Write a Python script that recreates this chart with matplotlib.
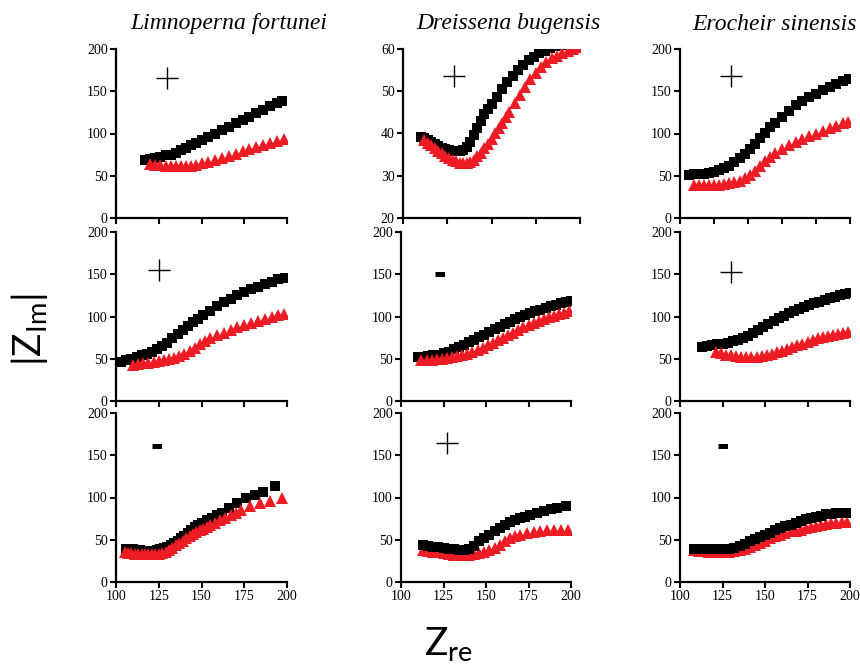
import numpy as np
from matplotlib import pyplot as plt

# species in the three columns
species = ['Limnoperna fortunei', 'Dreissena bugensis', 'Erocheir sinensis']
signs = [['+', '+', '+'],
         ['+', '-', '+'],
         ['-', '+', '-']]

# row 1
p11_bx = [117, 120, 123, 126, 129, 132, 135, 138, 141, 144, 147, 150, 154, 158, 162, 166, 170, 174, 178, 182, 186, 190, 194, 197]
p11_by = [69, 70, 71, 72, 74, 75, 77, 80, 83, 86, 89, 92, 96, 100, 104, 108, 113, 116, 120, 124, 128, 132, 136, 139]
p11_rx = [120, 123, 126, 129, 132, 135, 138, 141, 144, 147, 150, 154, 158, 162, 166, 170, 174, 178, 182, 186, 190, 194, 198]
p11_ry = [64, 63, 62.5, 62, 61.5, 61, 61, 61.5, 62, 63, 64.5, 66.5, 68.5, 71, 73.5, 76, 79, 81.5, 84, 86.5, 89, 91, 93]

p12_bx = [110, 112, 114, 116, 118, 120, 122, 124, 126, 128, 130, 132, 134, 136, 138, 140, 142, 144, 146, 148, 150,
          153, 156, 159, 162, 165, 168, 171, 174, 177, 180, 183, 186, 189, 192]
p12_by = [39.2, 39, 38.5, 38, 37.6, 37.1, 36.6, 36.3, 36, 35.8, 35.8, 35.9, 36.2, 36.9, 38, 39.6, 41.3, 43, 44.5, 45.8, 47,
          48.7, 50.6, 52.2, 53.6, 55, 56.2, 57.3, 58.2, 59, 59.6, 60.2, 60.6, 61, 61.3]
p12_rx = [112, 114, 116, 118, 120, 122, 124, 126, 128, 130, 132, 134, 136, 138, 140, 142, 144, 146, 148, 150, 152, 154,
          156, 158, 160, 163, 166, 169, 172, 175, 178, 181, 184, 187, 190, 193, 196, 199]
p12_ry = [38.4, 37.8, 37.2, 36.6, 35.9, 35.3, 34.7, 34.2, 33.8, 33.4, 33, 32.9, 33, 33.3, 33.8, 34.6, 35.5, 36.5, 37.6,
          38.8, 40, 41.3, 42.6, 43.9, 45.2, 47.2, 49.2, 51, 52.8, 54.3, 55.8, 57, 57.8, 58.3, 59, 59.6, 60.1, 60.5]

p13_bx = [105, 108, 111, 114, 117, 120, 123, 126, 129, 132, 135, 138, 141, 144, 147, 150, 153, 156, 160, 164, 168, 172,
          176, 180, 184, 188, 192, 196, 199.5]
p13_by = [51, 51.5, 52, 52.5, 53.5, 55, 57, 59, 62, 66, 70.5, 76, 82, 88, 95, 101, 108, 113, 120, 127, 134, 139, 143,
          147, 151, 155, 159, 162, 164]
p13_rx = [108, 111, 114, 117, 120, 123, 126, 129, 132, 135, 138, 141, 144, 147, 150, 153, 156, 160, 164, 168, 172, 176,
          180, 184, 188, 192, 196, 199]
p13_ry = [39.5, 39.3, 39.2, 39.2, 39.3, 39.5, 40, 41, 42.5, 44, 47, 51, 56, 61, 67, 72, 77, 82, 86, 90, 94, 97, 100,
          103, 106, 109, 112, 114]

# row 2
p21_bx = [103, 106, 109, 112, 115, 118, 121, 124, 127, 130, 133, 136, 139, 142, 145, 148, 151, 155, 159, 163, 167, 171,
          175, 179, 183, 187, 191, 195, 199]
p21_by = [46.5, 48, 50, 52, 54, 56, 58.5, 61.5, 65, 69, 74, 79, 84, 88.5, 93, 97.5, 102, 107, 112, 117, 121, 125, 129,
          132, 135, 138, 141, 144, 146]
p21_rx = [110, 113, 116, 119, 122, 125, 128, 131, 134, 137, 140, 143, 146, 149, 152, 155, 159, 163, 167, 171, 175, 179,
          183, 187, 191, 195, 198]
p21_ry = [43, 43.5, 44.5, 45.3, 46, 47, 48, 49.5, 51, 53, 56, 59, 63, 67, 71, 74, 78, 81, 84, 87, 89.5, 92, 95, 97.5,
          100, 102, 103.5]

p22_bx = [110, 113, 116, 119, 122, 125, 128, 131, 134, 137, 140, 143, 146, 149, 152, 155, 158, 161, 164, 167, 170, 173,
          176, 179, 182, 185, 188, 191, 194, 197, 200]
p22_by = [52, 52.5, 53, 54, 55, 56.5, 58.5, 61, 63.5, 66.5, 69.5, 72.5, 75.5, 78.5, 81.5, 85, 88, 91, 94, 97, 99.5,
          102, 104, 106, 108, 110, 112, 114, 115.5, 117, 118]
p22_rx = [112, 115, 118, 121, 124, 127, 130, 133, 136, 139, 142, 145, 148, 151, 154, 157, 160, 163, 166, 169, 172, 175,
          178, 181, 184, 187, 190, 193, 196, 199]
p22_ry = [48, 48.5, 49, 49.5, 50, 51, 52, 53, 54.5, 56, 58, 60.5, 63, 66, 69, 72, 75, 78, 81, 84, 87, 89.5, 92, 94.5,
          97, 99, 101, 102.5, 104.5, 107]

p23_bx = [113, 116, 119, 122, 125, 128, 131, 134, 137, 140, 143, 146, 149, 152, 155, 158, 161, 164, 167, 170, 173, 176,
          179, 182, 185, 188, 191, 194, 197, 200]
p23_by = [64, 65, 66, 67, 68, 69, 70.5, 72, 74, 76.5, 80, 84, 87.5, 91, 94.5, 98, 101, 104, 106.5, 109, 111, 113.5,
          116, 117.5, 119.5, 121.5, 123, 125, 127, 128]
p23_rx = [121, 124, 127, 130, 133, 136, 139, 142, 145, 148, 151, 154, 157, 160, 163, 166, 169, 172, 175, 178, 181, 184,
          187, 190, 193, 196, 199]
p23_ry = [58, 56.5, 55, 54, 53, 52.5, 52, 52, 52.5, 53.5, 54.5, 56, 57.5, 59.5, 61.5, 63.5, 66, 68, 70, 72, 74, 75.5,
          77, 78, 79.5, 81, 82]

# row 3
p31_bx = [106, 108, 110, 112, 114, 116, 118, 120, 122, 124, 126, 128, 130, 132, 134, 136, 138, 140, 142, 144, 146, 148,
          150, 153, 156, 159, 162, 166, 171, 176, 181, 186, 193]
p31_by = [39, 39, 38.5, 38, 37.5, 37, 36.5, 36.5, 37, 38, 39, 40, 42, 44, 46.5, 49, 52, 55, 58, 61, 65, 68, 70, 73, 76,
          79, 82, 87, 93.5, 99, 103, 107, 114]
p31_rx = [105, 107, 109, 111, 113, 115, 117, 119, 121, 123, 125, 127, 129, 131, 133, 135, 137, 139, 141, 143, 145, 147,
          149, 151, 153, 155, 158, 161, 164, 167, 170, 173, 178.5, 184.5, 190, 197]
p31_ry = [35, 34.5, 34, 33.5, 33, 33, 33, 33, 33, 33, 33.5, 34.5, 36, 38, 40.5, 43.5, 46.5, 49, 51.5, 54, 56.5, 59, 61,
          63, 65, 67, 70, 73, 76, 79, 82, 85.5, 90, 93.5, 95.5, 99.5]

p32_bx = [113, 116, 119, 122, 125, 128, 131, 134, 137, 140, 143, 146, 149, 152, 155, 158, 161, 164, 167, 170, 173, 176,
          180, 184, 188, 192, 197]
p32_by = [43.5, 43, 42, 41, 40.5, 39.5, 38.5, 38, 38, 39.5, 43, 48, 52, 56, 60, 64, 67.5, 70.5, 73, 75.5, 77.5, 79.5,
          82, 84, 86, 88, 90.5]
p32_rx = [113, 116, 119, 122, 125, 128, 131, 134, 137, 140, 143, 146, 149, 152, 155, 158, 161, 164, 167, 170, 174, 178,
          182, 186, 190, 194, 198]
p32_ry = [37.5, 37, 36, 35, 34, 33, 32, 31.5, 31.5, 32, 33, 34.5, 36, 37.5, 40, 44, 48, 51.5, 54.5, 56, 58, 59.5, 60.5,
          61, 61, 61, 61]

p33_bx = [108, 111, 114, 117, 120, 123, 126, 129, 132, 135, 138, 141, 144, 147, 150, 153, 156, 159, 162, 165, 168, 171,
          174, 177, 180, 183, 186, 189, 192, 195, 198]
p33_by = [39.5, 39.5, 39.5, 39.5, 39.5, 39, 39, 39.5, 40.5, 42.5, 45, 48, 51, 53.5, 56, 58.5, 61, 63.5, 66, 68, 70, 72,
          74, 75.5, 77, 78.5, 80, 81, 81.5, 81.5, 81.5]
p33_rx = [108, 111, 114, 117, 120, 123, 126, 129, 132, 135, 138, 141, 144, 147, 150, 153, 156, 159, 162, 165, 168, 171,
          174, 177, 180, 183, 186, 189, 192, 195, 198]
p33_ry = [37.5, 37, 36.5, 36, 35.5, 35.5, 35.5, 36, 36.5, 37.5, 39.5, 42, 44, 46.5, 49, 51.5, 54, 56, 58, 60, 60.5, 62,
          63.5, 65, 66.5, 67.5, 68.5, 69.5, 70, 70.5, 71]

panels = [[(p11_bx, p11_by, p11_rx, p11_ry), (p12_bx, p12_by, p12_rx, p12_ry), (p13_bx, p13_by, p13_rx, p13_ry)],
          [(p21_bx, p21_by, p21_rx, p21_ry), (p22_bx, p22_by, p22_rx, p22_ry), (p23_bx, p23_by, p23_rx, p23_ry)],
          [(p31_bx, p31_by, p31_rx, p31_ry), (p32_bx, p32_by, p32_rx, p32_ry), (p33_bx, p33_by, p33_rx, p33_ry)]]

red = '#ed1c24'
serif = 'Liberation Serif'

fig = plt.figure(figsize=(8.6, 6.64), dpi=100)

# axes boxes in pixels (left, width); the top middle panel is a bit wider
lefts = [[116, 403, 680], [116, 401, 680], [116, 401, 680]]
widths = [[171, 177, 170], [171, 170, 170], [171, 170, 170]]
tops = [49, 232, 413]
sign_pos = [[(0.30, 0.83), (0.29, 0.84), (0.30, 0.84)],
            [(0.25, 0.775), (0.23, 0.745), (0.30, 0.765)],
            [(0.24, 0.80), (0.27, 0.82), (0.25, 0.80)]]

for r in range(3):
    for c in range(3):
        ax = fig.add_axes([lefts[r][c] / 860, 1 - (tops[r] + 169) / 664, widths[r][c] / 860, 169 / 664])
        bx, by, rx, ry = panels[r][c]
        if r == 2 and c >= 1:
            ax.plot(rx, ry, '^', color=red, ms=8, mew=0)
            ax.plot(bx, by, 's', color='k', ms=7.5, mew=0)
        else:
            ax.plot(bx, by, 's', color='k', ms=7.5, mew=0)
            ax.plot(rx, ry, '^', color=red, ms=8, mew=0)

        ax.set_xlim(100, 200)
        if r == 0 and c == 1:
            ax.set_ylim(20, 60)
            ax.set_yticks([20, 30, 40, 50, 60])
        else:
            ax.set_ylim(0, 200)
            ax.set_yticks([0, 50, 100, 150, 200])
        if r == 0 and c == 2:
            ax.set_xticks([100, 120, 140, 160, 180, 200])
        else:
            ax.set_xticks([100, 125, 150, 175, 200])
        if r < 2:
            ax.set_xticklabels([])

        for s in ['top', 'right']:
            ax.spines[s].set_visible(False)
        for s in ['left', 'bottom']:
            ax.spines[s].set_linewidth(1.6)
        ax.tick_params(direction='out', length=4, width=1.5, labelsize=10, pad=2)
        for lab in ax.get_xticklabels() + ax.get_yticklabels():
            lab.set_family(serif)

        # sign of the response, drawn as a thin cross or a short bar
        sx, sy = sign_pos[r][c]
        if signs[r][c] == '+':
            ax.plot(sx, sy, '+', transform=ax.transAxes, color='k', ms=16, mew=1.0, clip_on=False)
        else:
            ax.text(sx, sy, '-', transform=ax.transAxes, ha='center', va='center',
                    fontsize=27, family='Liberation Sans', fontweight='bold')

# column titles
title_x = [229, 508, 775]
for c in range(3):
    fig.text(title_x[c] / 860, 1 - 24 / 664, species[c], ha='center', va='center',
             fontsize=17, family=serif, style='italic')

fig.text(30 / 860, 1 - 330 / 664, r'|Z$_{\mathregular{Im}}$|', rotation=90, ha='center', va='center',
         fontsize=28, family='Lato')
fig.text(448 / 860, 1 - 645 / 664, r'Z$_{\mathregular{re}}$', ha='center', va='center',
         fontsize=28, family='Lato')

fig.savefig('out.png', dpi=100)
